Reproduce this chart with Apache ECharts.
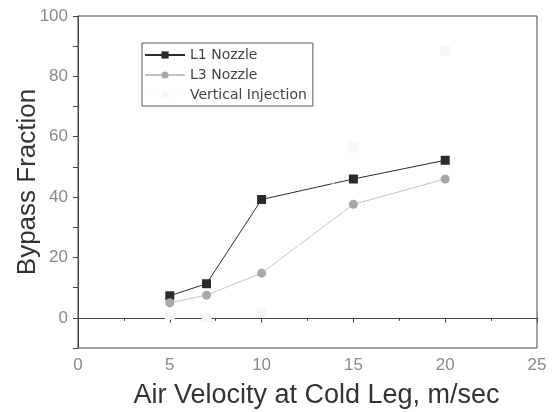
<!DOCTYPE html>
<html>
<head>
<meta charset="utf-8">
<script src="https://cdn.jsdelivr.net/npm/echarts@6/dist/echarts.min.js"></script>
<style>
html, body { margin: 0; padding: 0; background: #fff; }
#main { width: 555px; height: 412px; }
</style>
</head>
<body>
<div id="main"></div>
<script>
var velocity = [5, 7, 10, 15, 20];
var l1Nozzle = [7.3, 11.3, 39.2, 46, 52.2];
var l3Nozzle = [5, 7.5, 14.8, 37.6, 46];
var verticalInjection = [1, 0, 2, 56.5, 88.5];
var yLabels = [0, 20, 40, 60, 80, 100];

function pairs(ys) {
    return velocity.map(function (x, i) { return [x, ys[i]]; });
}

var chart = echarts.init(document.getElementById('main'));
var option = {
    animation: false,
    textStyle: {fontFamily: 'Liberation Sans, Arial, sans-serif'},
    grid: {
        left: 78, right: 18, top: 16, bottom: 64,
        outerBoundsMode: 'none',
        show: true, borderColor: '#444', borderWidth: 1
    },
    legend: {
        orient: 'vertical',
        left: 142, top: 43,
        padding: [5, 6, 4, 2],
        itemWidth: 40, itemHeight: 9, itemGap: 6,
        borderColor: '#555', borderWidth: 1,
        textStyle: {fontSize: 14, color: '#444', fontFamily: 'DejaVu Sans'},
        data: ['L1 Nozzle', 'L3 Nozzle', 'Vertical Injection']
    },
    xAxis: {
        type: 'value',
        min: 0, max: 25, interval: 5,
        name: 'Air Velocity at Cold Leg, m/sec',
        nameLocation: 'middle', nameGap: 34, nameMoveOverlap: false,
        nameTextStyle: {fontSize: 27, color: '#333', padding: [0, 0, 0, 18]},
        axisLine: {lineStyle: {color: '#444'}},
        axisTick: {length: 5, lineStyle: {color: '#444'}},
        minorTick: {show: true, splitNumber: 2, length: 3, lineStyle: {color: '#444'}},
        axisLabel: {fontSize: 17, color: '#8a8a8a', margin: 9},
        splitLine: {show: false}
    },
    yAxis: {
        type: 'value',
        min: -10, max: 100, interval: 10,
        name: 'Bypass Fraction',
        nameLocation: 'middle', nameGap: 37, nameMoveOverlap: false,
        nameTextStyle: {fontSize: 26, color: '#333'},
        axisLine: {lineStyle: {color: '#444'}},
        axisTick: {length: 5, lineStyle: {color: '#444'}},
        axisLabel: {
            fontSize: 17, color: '#8a8a8a', margin: 10,
            formatter: function (v) { return yLabels.indexOf(v) >= 0 ? String(v) : ''; }
        },
        splitLine: {show: false}
    },
    series: [
        {
            name: 'L1 Nozzle', type: 'line',
            data: pairs(l1Nozzle),
            symbol: 'rect', symbolSize: 9,
            itemStyle: {color: '#2b2b2b'},
            lineStyle: {color: '#2b2b2b', width: 1}
        },
        {
            name: 'L3 Nozzle', type: 'line',
            data: pairs(l3Nozzle),
            symbol: 'circle', symbolSize: 9,
            itemStyle: {color: '#a8a8a8'},
            lineStyle: {color: '#c4c4c4', width: 1}
        },
        {
            name: 'Vertical Injection', type: 'line',
            data: pairs(verticalInjection),
            symbol: 'rect', symbolSize: 10,
            itemStyle: {color: '#f7f7f7'},
            lineStyle: {color: '#fefefe', width: 1}
        }
    ]
};
chart.setOption(option);
</script>
</body>
</html>
